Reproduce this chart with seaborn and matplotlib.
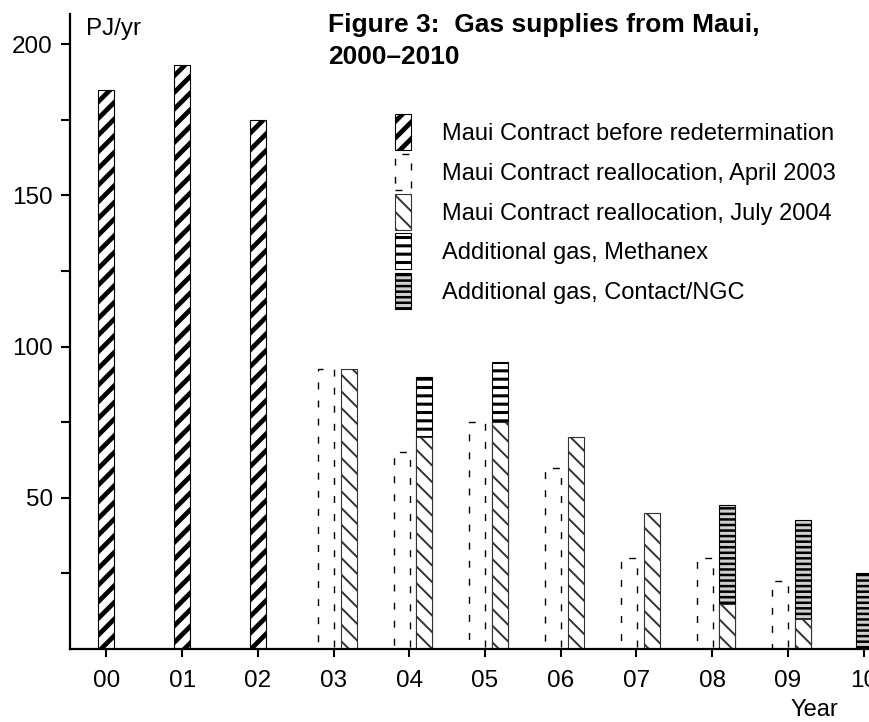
#!/usr/bin/env python3
"""
Gas supplies from Maui, 2000-2010 (Figure 3)
"""
import matplotlib
matplotlib.use("Agg")
import matplotlib.pyplot as plt
from matplotlib.patches import Patch, Rectangle
from matplotlib.legend_handler import HandlerPatch
import pandas as pd
import seaborn as sns

# x tick labels (years 2000-2010)
years = ["00", "01", "02", "03", "04", "05", "06", "07", "08", "09", "10"]

# series, PJ/yr
before_idx = [0, 1, 2]
before_vals = [185, 193, 175]

april_idx = [3, 4, 5, 6, 7, 8, 9]
april_vals = [92.5, 65, 75, 60, 30, 30, 22.5]

july_idx = [3, 4, 5, 6, 7, 8, 9]
july_vals = [92.5, 70, 75, 70, 45, 15, 10]

methanex_idx = [4, 5]
methanex_vals = [20, 20]

contact_idx = [8, 9, 10]
contact_vals = [32.5, 32.5, 25]

labels = [
    "Maui Contract before redetermination",
    "Maui Contract reallocation, April 2003",
    "Maui Contract reallocation, July 2004",
    "Additional gas, Methanex",
    "Additional gas, Contact/NGC",
]

sns.set_style("ticks", {"axes.edgecolor": "black", "xtick.color": "black",
                        "ytick.color": "black", "text.color": "black"})
plt.rcParams["font.family"] = ["Liberation Sans", "DejaVu Sans"]
plt.rcParams["hatch.linewidth"] = 2.0

# styles for each series
styles = {
    "before": dict(color="white", edgecolor="black", linewidth=0.8, hatch="//"),
    "april": dict(color="white", edgecolor="black", linewidth=1.0, linestyle=(0, (5, 8))),
    "july": dict(color="white", edgecolor="#333333", linewidth=0.8, hatch="\\\\"),
    "methanex": dict(color="white", edgecolor="black", linewidth=0.8, hatch="--"),
    "contact": dict(color="#cfcfcf", edgecolor="black", linewidth=0.8, hatch="---"),
}
hatch_lw = {"before": 3.4, "april": 1.0, "july": 1.4, "methanex": 2.2, "contact": 1.8}

BAR_W = 0.21
FS = 17


def draw_bars(ax, xs, heights, key):
    """Draw one series of bars with seaborn and set its hatch line width"""
    df = pd.DataFrame({"x": xs, "y": heights})
    n0 = len(ax.patches)
    sns.barplot(data=df, x="x", y="y", native_scale=True, width=BAR_W,
                errorbar=None, saturation=1, ax=ax, **styles[key])
    for p in ax.patches[n0:]:
        if hasattr(p, "set_hatch_linewidth"):
            p.set_hatch_linewidth(hatch_lw[key])


def tall_patch(legend, orig_handle, xdescent, ydescent, width, height, fontsize):
    # legend keys in the original are tall narrow boxes
    extra = 0.4 * fontsize
    p = Rectangle((-xdescent, -ydescent - extra / 2), width, height + extra)
    if hasattr(p, "set_hatch_linewidth"):
        p.set_hatch_linewidth(orig_handle.get_hatch_linewidth())
    return p


fig = plt.figure(figsize=(8.7, 7.22), dpi=100)
ax = fig.add_axes([70 / 870, 73 / 722, 830 / 870, 635 / 722])

july_map = dict(zip(july_idx, july_vals))

# before redetermination, centred on the tick
draw_bars(ax, before_idx, before_vals, "before")
# April 2003 reallocation, left of the tick
draw_bars(ax, [i - 0.1 for i in april_idx], april_vals, "april")

# stacked totals drawn first, July 2004 drawn over them
draw_bars(ax, [i + 0.2 for i in methanex_idx],
          [july_map[i] + v for i, v in zip(methanex_idx, methanex_vals)], "methanex")
c_in = [i for i in contact_idx if i in july_map]
c_out = [i for i in contact_idx if i not in july_map]
draw_bars(ax, [i + 0.2 for i in c_in],
          [july_map[i] + v for i, v in zip(contact_idx, contact_vals) if i in july_map], "contact")
draw_bars(ax, c_out, [v for i, v in zip(contact_idx, contact_vals) if i not in july_map], "contact")
draw_bars(ax, [i + 0.2 for i in july_idx], july_vals, "july")

# axes
ax.set_xlim(-0.48, 10.48)
ax.set_ylim(0, 210)
ax.set_xlabel("")
ax.set_ylabel("")
ax.set_xticks(range(len(years)))
ax.set_xticklabels(years)
ax.set_yticks([50, 100, 150, 200])
ax.set_yticks([25, 75, 125, 175], minor=True)
ax.tick_params(axis="y", which="both", length=6.5, width=1.5, pad=6, labelsize=17.5)
ax.tick_params(axis="x", length=6, width=1.5, pad=9, labelsize=17.5)
sns.despine(ax=ax)
for s in ["left", "bottom"]:
    ax.spines[s].set_linewidth(1.6)

fig.text(86 / 870, 1 - 35 / 722, "PJ/yr", fontsize=17.5, va="baseline")
fig.text(814 / 870, 1 - 721 / 722, "Year", fontsize=17, ha="center", va="bottom")
fig.text(328 / 870, 1 - 13 / 722, "Figure 3:  Gas supplies from Maui,\n2000\u20132010",
         fontsize=19, fontweight="bold", va="top", linespacing=1.42)

# legend
handles = []
for key in ["before", "april", "july", "methanex", "contact"]:
    st = styles[key]
    h = Patch(facecolor=st["color"], edgecolor=st["edgecolor"], linewidth=st["linewidth"],
              hatch=st.get("hatch"), linestyle=st.get("linestyle", "-"))
    if hasattr(h, "set_hatch_linewidth"):
        h.set_hatch_linewidth(hatch_lw[key])
    handles.append(h)
fig.legend(handles, labels, loc="upper left", bbox_to_anchor=(395 / 870, 1 - 119 / 722),
           frameon=False, fontsize=FS, handlelength=0.68, handleheight=1.35,
           handletextpad=1.3, labelspacing=0.56, borderpad=0, borderaxespad=0,
           handler_map={Patch: HandlerPatch(patch_func=tall_patch)})

plt.savefig("out.png", dpi=100)
plt.close()
